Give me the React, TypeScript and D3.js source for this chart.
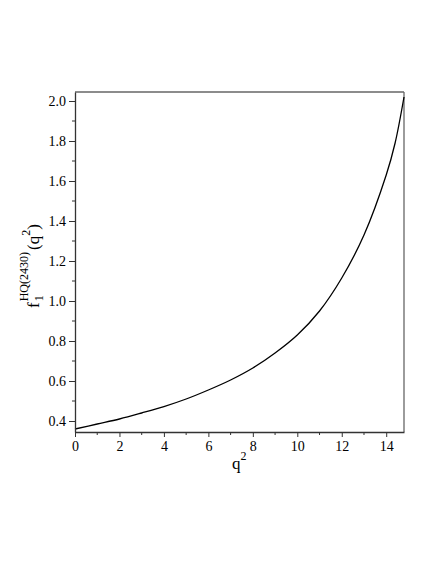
import React, { useEffect, useRef } from 'react';
import * as d3 from 'd3';

// q^2 values and form factor
const q2Values = [0, 1, 2, 3, 4, 5, 6, 7, 8, 9, 10, 11, 12, 13, 14, 14.4, 14.8];
const f1Values = [0.36, 0.385, 0.41, 0.44, 0.472, 0.51, 0.555, 0.605, 0.665, 0.74, 0.83, 0.95, 1.115, 1.33, 1.63, 1.79, 2.02];

const xTicks = [0, 2, 4, 6, 8, 10, 12, 14];
const xMinorTicks = [1, 3, 5, 7, 9, 11, 13];
const yTicks = [0.4, 0.6, 0.8, 1.0, 1.2, 1.4, 1.6, 1.8, 2.0];
const yMinorTicks = [0.5, 0.7, 0.9, 1.1, 1.3, 1.5, 1.7, 1.9];

const App = () => {
    const svgRef = useRef<SVGSVGElement>(null);

    useEffect(() => {
        const svg = d3.select(svgRef.current);
        svg.selectAll('*').remove();
        const margin = { top: 92, left: 75 };
        const width = 329;
        const height = 340;
        const g = svg.append('g').attr('transform', `translate(${margin.left},${margin.top})`);

        const x = d3.scaleLinear().domain([0, 14.8]).range([0, width]);
        const y = d3.scaleLinear().domain([0.345, 2.045]).range([height, 0]);

        const font = '"Liberation Serif", "DejaVu Serif", serif';

        // frame: top and right in grey
        g.append('line').attr('x1', 0).attr('x2', width).attr('y1', 0).attr('y2', 0)
            .attr('stroke', '#666').attr('stroke-width', 1.3);
        g.append('line').attr('x1', width).attr('x2', width).attr('y1', 0).attr('y2', height)
            .attr('stroke', '#666').attr('stroke-width', 1.3);

        // curve
        const line = d3.line<number>()
            .x((d, i) => x(q2Values[i]))
            .y(d => y(d))
            .curve(d3.curveCatmullRom);
        g.append('path')
            .datum(f1Values)
            .attr('fill', 'none')
            .attr('stroke', '#000')
            .attr('stroke-width', 1.3)
            .attr('d', line);

        // x axis
        const xAxis = g.append('g')
            .attr('transform', `translate(0,${height})`)
            .call(d3.axisBottom(x).tickValues(xTicks).tickSize(5).tickSizeOuter(0).tickPadding(4).tickFormat(d3.format('d')));
        xAxis.append('g').selectAll('line')
            .data(xMinorTicks)
            .join('line')
            .attr('x1', d => x(d)).attr('x2', d => x(d))
            .attr('y1', 0).attr('y2', 3)
            .attr('stroke', '#333');

        // y axis
        const yAxis = g.append('g')
            .call(d3.axisLeft(y).tickValues(yTicks).tickSize(6).tickSizeOuter(0).tickPadding(3).tickFormat(d3.format('.1f')));
        yAxis.append('g').selectAll('line')
            .data(yMinorTicks)
            .join('line')
            .attr('y1', d => y(d)).attr('y2', d => y(d))
            .attr('x1', 0).attr('x2', -3)
            .attr('stroke', '#333');

        [xAxis, yAxis].forEach(a => {
            a.attr('font-family', font);
            a.select('.domain').attr('stroke', '#333').attr('stroke-width', 1.3);
            a.selectAll('.tick line').attr('stroke', '#333');
            a.selectAll('text').attr('font-family', font).attr('font-size', 14).attr('fill', '#000');
        });

        // x label q^2
        const xl = svg.append('text')
            .attr('x', 232)
            .attr('y', 469)
            .attr('font-family', font)
            .attr('font-size', 17);
        xl.append('tspan').text('q');
        xl.append('tspan').attr('font-size', 12).attr('dy', -9).text('2');

        // y label f_1^{HQ(2430)}(q^2)
        const yl = svg.append('text')
            .attr('transform', 'translate(39,308) rotate(-90)')
            .attr('font-family', font)
            .attr('font-size', 17);
        yl.append('tspan').text('f');
        yl.append('tspan').attr('font-size', 12).attr('dx', 1).attr('dy', 4).text('1');
        yl.append('tspan').attr('font-size', 12).attr('dx', -6).attr('dy', -15).text('HQ(2430)');
        yl.append('tspan').attr('dx', 2).attr('dy', 11).text('(q');
        yl.append('tspan').attr('font-size', 12).attr('dy', -9).text('2');
        yl.append('tspan').attr('dy', 9).text(')');
    }, []);

    return (
        <svg ref={svgRef} width={436} height={564}
            style={{ position: 'absolute', left: 0, top: 0, background: '#fff' }} />
    );
};

export default App;
